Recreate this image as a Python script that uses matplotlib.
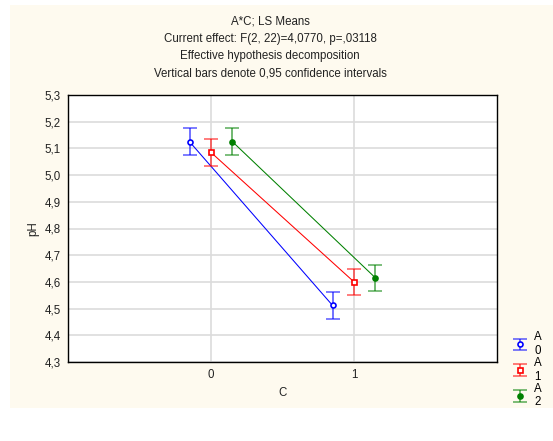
import matplotlib
matplotlib.use("Agg")
import matplotlib.pyplot as plt
from matplotlib.patches import Rectangle
import numpy as np

plt.rcParams['font.family'] = ['Liberation Sans', 'DejaVu Sans']

# LS means of pH for each level of A across C
c_levels = [0, 1]
a_levels = ["0", "1", "2"]
ph_a0 = [5.125, 4.512]
ph_a1 = [5.085, 4.600]
ph_a2 = [5.125, 4.615]
ci_half = [0.050, 0.050]  # half-width of 0.95 confidence interval

title_lines = [
    "A*C; LS Means",
    "Current effect: F(2, 22)=4,0770, p=,03118",
    "Effective hypothesis decomposition",
    "Vertical bars denote 0,95 confidence intervals",
]
y_ticks = [4.3, 4.4, 4.5, 4.6, 4.7, 4.8, 4.9, 5.0, 5.1, 5.2, 5.3]

FS = 8.3
W, H = 553, 441
fig = plt.figure(figsize=(W / 100, H / 100), dpi=100)
fig.patch.set_facecolor("white")
bg = Rectangle((10 / W, 1 - 408 / H), (W - 10) / W, (408 - 5) / H,
               transform=fig.transFigure, facecolor="#fefaef",
               edgecolor="none", zorder=-10)
fig.add_artist(bg)

ax = fig.add_axes([68 / W, 1 - 362 / H, (497 - 68) / W, (362 - 95) / H])
ax.set_zorder(1)
ax.set_facecolor("white")

series = [
    (ph_a0, "#0000ff", "o", "white", -0.15),
    (ph_a1, "#ff0000", "s", "white", 0.0),
    (ph_a2, "#008000", "o", "#008000", 0.15),
]
handles = []
for vals, col, mk, mfc, off in series:
    x = np.array(c_levels, dtype=float) + off
    ax.plot(x, vals, color=col, lw=0.75, zorder=3)
    eb = ax.errorbar(x, vals, yerr=ci_half, fmt=mk, color=col, ms=3.6,
                     mfc=mfc, mec=col, mew=1.2, ecolor=col, elinewidth=1.3,
                     capsize=4.8, capthick=1.3, zorder=4)
    for art in eb[1] + eb[2]:
        art.set_alpha(0.6)
    handles.append(eb)

ax.set_xlim(-1, 2)
ax.set_ylim(4.3, 5.3)
ax.set_xticks(c_levels)
ax.set_xticklabels([str(c) for c in c_levels])
ax.set_yticks(y_ticks)
ax.set_yticklabels([f"{t:.1f}".replace(".", ",") for t in y_ticks])
ax.tick_params(length=0, labelsize=FS, colors="#222222")
ax.tick_params(axis="y", pad=5)
ax.tick_params(axis="x", pad=5)
ax.grid(True, color="#dcdcdc", lw=1.2)
ax.set_axisbelow(True)
for s in ax.spines.values():
    s.set_linewidth(1.0)
    s.set_color("black")
ax.set_xlabel("C", fontsize=FS, labelpad=4, color="#222222")
ax.set_ylabel("pH", fontsize=FS, labelpad=4, color="#222222")

for i, line in enumerate(title_lines):
    fig.text(270 / W, 1 - (22 + 17 * i) / H, line, ha="center", va="center",
             fontsize=FS, color="#222222")

leg = fig.legend(handles, [f"A\n{a}" for a in a_levels], loc="upper left",
                 bbox_to_anchor=(510 / W, 1 - 331 / H), frameon=False,
                 fontsize=FS, handlelength=1.8, handletextpad=0.3,
                 labelspacing=0.0, borderpad=0, borderaxespad=0)

fig.savefig("out.png", dpi=100)
